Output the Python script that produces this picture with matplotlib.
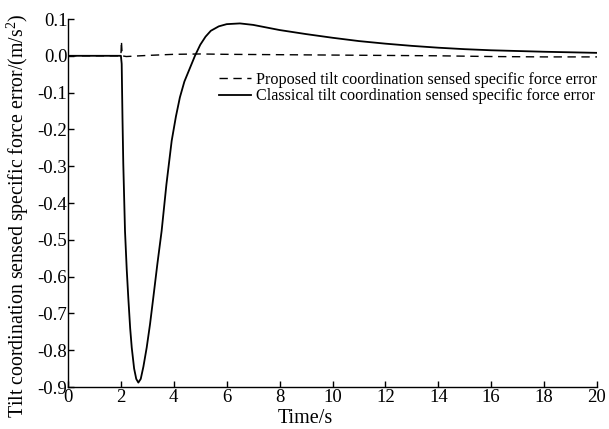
import matplotlib
matplotlib.use("Agg")
import matplotlib.pyplot as plt

# ---- data ----
t_classical = [0, 2.0, 2.03, 2.06, 2.09, 2.155, 2.22, 2.28, 2.35, 2.41, 2.5, 2.58, 2.66,
               2.75, 2.85, 2.975, 3.1, 3.225, 3.38, 3.54, 3.72, 3.92, 4.08, 4.23, 4.4,
               4.6, 4.8, 5.0, 5.2, 5.4, 5.7, 6.0, 6.5, 7.0, 8.0, 9.0, 10.0, 11.0, 12.0,
               13.0, 14.0, 15.0, 16.0, 17.0, 18.0, 19.0, 20.0]
v_classical = [0, 0, -0.022, -0.17, -0.293, -0.476, -0.58, -0.658, -0.74, -0.793, -0.85,
               -0.878, -0.888, -0.878, -0.845, -0.793, -0.73, -0.657, -0.565, -0.476,
               -0.35, -0.231, -0.165, -0.113, -0.07, -0.035, 0.0, 0.03, 0.052, 0.068,
               0.080, 0.086, 0.088, 0.084, 0.070, 0.059, 0.049, 0.040, 0.033, 0.027,
               0.022, 0.018, 0.015, 0.013, 0.011, 0.0095, 0.008]

t_proposed = [0, 2.0, 2.02, 2.05, 2.2, 3.0, 4.0, 5.0, 6.0, 8.0, 10.0, 12.0, 14.0, 16.0,
              18.0, 20.0]
v_proposed = [0, 0, 0.04, 0.0, -0.002, 0.001, 0.004, 0.005, 0.004, 0.003, 0.002, 0.001,
              0.0, -0.002, -0.003, -0.003]

x_ticks = [0, 2, 4, 6, 8, 10, 12, 14, 16, 18, 20]
y_ticks = [0.1, 0.0, -0.1, -0.2, -0.3, -0.4, -0.5, -0.6, -0.7, -0.8, -0.9]
y_tick_labels = ["0.1", "0.0", "-0.1", "-0.2", "-0.3", "-0.4", "-0.5", "-0.6", "-0.7",
                 "-0.8", "-0.9"]

label_proposed = "Proposed tilt coordination sensed specific force error"
label_classical = "Classical tilt coordination sensed specific force error"
x_label = "Time/s"
y_label = "Tilt coordination sensed specific force error/(m/s$^2$)"

# ---- style ----
plt.rcParams["font.family"] = ["Liberation Serif", "DejaVu Serif"]
plt.rcParams["mathtext.fontset"] = "custom"
plt.rcParams["mathtext.rm"] = "Liberation Serif"
plt.rcParams["mathtext.it"] = "Liberation Serif:italic"

fig = plt.figure(figsize=(6.09, 4.29), dpi=100)
ax = fig.add_axes([68 / 609, 1 - 387 / 429, (597 - 68) / 609, (387 - 19) / 429])

ax.plot(t_proposed, v_proposed, color="black", lw=1.0, dashes=(6, 4), label=label_proposed)
ax.plot(t_classical, v_classical, color="black", lw=1.3, label=label_classical)

ax.set_xlim(0, 20)
ax.set_ylim(-0.9, 0.1)
ax.set_xticks(x_ticks)
ax.set_yticks(y_ticks)
ax.set_yticklabels(y_tick_labels)

for s in ["top", "right"]:
    ax.spines[s].set_visible(False)
for s in ["left", "bottom"]:
    ax.spines[s].set_linewidth(1.0)

ax.tick_params(axis="both", direction="in", length=4, width=1.0, labelsize=13.5)
ax.tick_params(axis="y", pad=0.5)
ax.tick_params(axis="x", pad=1.5)

ax.set_xlabel(x_label, fontsize=14.5)
ax.xaxis.set_label_coords(0.448, -0.06)
ax.set_ylabel(y_label, fontsize=14.3)
ax.yaxis.set_label_coords(-0.07, 0.465)

leg = ax.legend(loc="upper right", bbox_to_anchor=(1.0, 0.857), frameon=False,
                fontsize=11.65, handlelength=2.0, handletextpad=0.3,
                borderaxespad=0, borderpad=0, labelspacing=0.05)

fig.savefig("out.png", dpi=100)
